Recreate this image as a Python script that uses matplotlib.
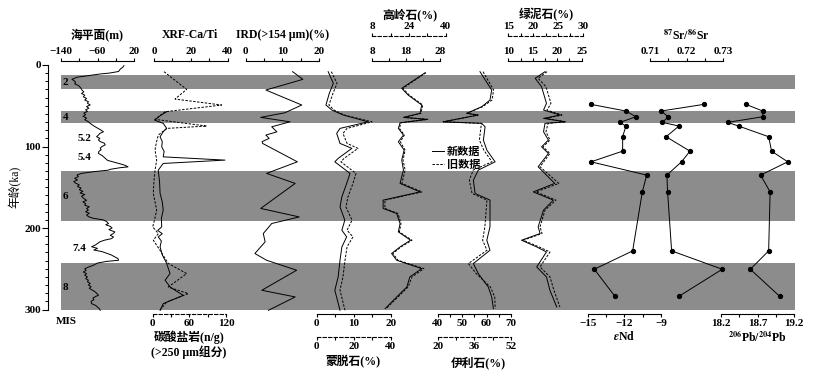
import matplotlib
matplotlib.use("Agg")
import matplotlib.pyplot as plt

plt.rcParams['font.family'] = ['Liberation Serif', 'Noto Sans CJK SC']
plt.rcParams['font.weight'] = 'bold'
plt.rcParams['mathtext.fontset'] = 'stix'

# ---- data (age in ka) ----
mis_bands = [(12, 29), (57, 71), (130, 191), (243, 300)]
mis_names = ['2', '4', '6', '8']
mis_name_age = [21, 64, 161, 273]
substage_names = ['5.2', '5.4', '7.4']
substage_age = [90, 113, 225]

sl_age = [0.8, 3, 5, 8, 10, 11, 13, 15, 17.6, 19, 21, 23, 24.6, 26, 28, 30.7, 33, 35, 37, 39,
          41, 43, 45, 47, 49, 51, 53, 55, 57, 59, 61, 63, 65, 67, 69.7, 72, 74, 75.8, 78, 80,
          81.9, 84, 86, 88, 90, 92, 94, 96, 98, 100, 102, 104, 106, 108.5, 111, 113, 115, 117, 119, 121,
          123, 125, 126, 128, 129, 131, 133, 135, 137, 139, 141, 143, 145, 147, 149, 151, 153, 155, 157, 159,
          161, 163.8, 166, 168, 170, 172, 174, 176, 178, 180, 182, 184, 186, 188, 190, 192, 194.5, 196, 198, 200,
          202, 204.8, 207, 209, 211, 213, 215, 217, 219, 221, 223, 225, 227, 229, 231, 233, 235.5, 237.5, 239.6, 241,
          243, 245.7, 248, 250, 252, 254, 256, 258, 260, 262, 264, 266, 268, 270, 272, 274, 276, 278, 280, 282.6,
          284, 286, 288, 290, 292.8, 295, 297, 299, 301]
sl_val = [-2, -5, -10, -14, -35, -54, -80, -105, -116, -112, -108, -110, -104, -100, -97, -94, -90, -95, -88, -91,
          -84, -88, -80, -82, -76, -84, -79, -86, -82, -90, -86, -92, -84, -88, -80, -75, -70, -65, -58, -52,
          -47, -55, -58, -62, -55, -58, -54, -45, -43, -50, -54, -52, -57, -58, -50, -46, -42, -38, -25, -12,
          0, 7, -10, -32, -36, -70, -95, -105, -102, -110, -104, -112, -108, -100, -104, -96, -100, -92, -98, -88,
          -95, -90, -84, -92, -86, -88, -78, -84, -80, -86, -78, -84, -80, -70, -48, -40, -36, -42, -32, -28,
          -35, -22, -26, -32, -25, -29, -45, -55, -60, -65, -73, -60, -68, -50, -40, -30, -22, -15, -14, -40,
          -60, -69, -80, -88, -85, -91, -84, -88, -82, -86, -80, -82, -76, -80, -74, -78, -72, -66, -62, -58,
          -64, -70, -68, -74, -73, -64, -60, -56, -54]

xrf_age = [57.3, 62, 67.6, 71.6, 77.8, 81.9, 88.1, 94, 100.4, 106, 112.7, 116.7, 120.8, 129, 143, 157.6,
           168, 178.1, 188, 198.6, 203, 207, 210.9, 216, 223.2, 233, 243.6, 255.9, 264.1, 273, 282.6, 292.8, 301]
xrf_val = [6.9, 3.5, 0.3, 5.0, 6.9, 5.0, 3.3, 4.5, 4.2, 5.5, 5.0, 38.5, 5.0, 2.3, 3.0, 3.3,
           4.5, 5.0, 4.0, 4.2, 2.0, 4.5, 2.3, 4.0, 3.3, 4.5, 6.9, 8.7, 6.0, 9.0, 15.9, 5.0, 3.3]

carb_age = [8.2, 29.9, 41.8, 49.1, 57.4, 66.7, 74.9, 77.8, 86, 95, 104.4, 116.7, 129, 143, 157.6, 178.1,
            190, 198.6, 206.8, 215, 227.3, 243.6, 255.9, 272.4, 280.5, 290.8, 301]
carb_val = [18.5, 55.6, 36.5, 112.9, 20.1, 3.8, 88.4, 22.9, 9.2, 6.0, 3.8, 6.5, 3.8, 2.0, 1.0, 6.5,
            3.0, 0.0, 9.2, 1.0, 11.9, 25.5, 55.6, 25.5, 58.3, 22.9, 11.9]

ird_age = [8.2, 17.6, 30.7, 49.1, 58.6, 64.3, 69.7, 75.8, 82, 86, 90, 94, 96.2, 118.8, 133, 145.3,
           176, 186.4, 194.5, 206.8, 217, 231.3, 239.6, 251.8, 276.4, 284.6, 301]
ird_val = [12.8, 15.6, 5.5, 15.3, 10.7, 4.1, 12.1, 7.1, 8.5, 5.5, 6.4, 4.5, 4.6, 14.1, 5.7, 13.5,
           4.1, 14.6, 7.1, 4.8, 5.3, 2.5, 5.7, 13.9, 4.4, 13.5, 6.2]

smec_age = [8.2, 22.5, 34.8, 49.1, 55.3, 61.4, 69.7, 77.8, 83.9, 96.2, 102.3, 114.6, 118.8, 133, 145.3,
            161.8, 174.1, 190.4, 202.7, 210.9, 223.2, 239.6, 260, 276.4, 301]
smec_new = [3.1, 4.5, 3.4, 2.5, 4.1, 7.2, 13.9, 6.3, 5.4, 6.3, 9.5, 5.8, 4.9, 9.0, 8.1,
            6.8, 6.3, 7.6, 6.8, 8.1, 6.8, 6.3, 5.8, 4.9, 6.3]
smec_old = [7.9, 11.0, 8.8, 6.6, 9.4, 14.8, 29.9, 16.4, 14.2, 16.4, 22.3, 14.8, 13.1, 21.2, 19.6,
            16.9, 15.8, 19.1, 16.4, 19.6, 16.4, 15.3, 14.2, 12.6, 15.3]

kaol_age = [9.5, 28.6, 36.9, 49.1, 59.3, 64.3, 66.7, 70.9, 77.8, 86, 94.2, 104.4, 116.7, 129, 145.3,
            155.7, 165.8, 176, 182.2, 194.5, 204.8, 215, 223.2, 231.3, 239.6, 249.8, 260, 272.4, 284.6, 298.9]
kaol_new = [23.6, 16.7, 18.6, 22.6, 22.1, 17.2, 24.1, 16.2, 15.7, 17.2, 15.7, 17.4, 16.7, 17.2, 16.2,
            22.1, 11.2, 11.2, 15.2, 16.2, 15.7, 19.3, 16.2, 13.7, 15.2, 22.6, 19.1, 18.2, 15.2, 11.8]
kaol_old = [31.4, 21.3, 24.1, 30.0, 29.2, 22.0, 32.2, 20.5, 19.8, 22.0, 20.2, 22.3, 21.4, 22.3, 20.9,
            29.7, 13.5, 13.5, 19.2, 20.5, 19.8, 25.3, 20.5, 17.0, 19.2, 30.5, 25.3, 23.6, 19.2, 14.0]

illi_age = [8.2, 30.7, 43, 51.2, 59.3, 61.4, 69.7, 71.6, 75.8, 92.1, 104.4, 118.8, 129, 141.3, 157.6,
            165.8, 198.6, 215, 227.3, 243.6, 255.9, 272.4, 284.6, 298.9]
illi_new = [57.3, 62.1, 61.4, 58.0, 51.9, 56.5, 42.3, 58.0, 59.4, 58.7, 60.1, 63.5, 56.6, 54.6, 55.3,
            61.4, 61.4, 60.1, 61.4, 54.6, 56.6, 60.7, 62.1, 62.8]
illi_old = [39.8, 44.4, 43.7, 39.6, 32.7, 37.6, 22.4, 39.2, 38.9, 38.2, 40.1, 43.7, 35.5, 33.8, 35.0,
            41.5, 40.6, 39.6, 41.5, 33.4, 36.8, 43.0, 44.9, 45.1]

chlo_age = [8.2, 16.3, 26.7, 47.1, 55.3, 61.4, 65.5, 69.7, 71.6, 81.9, 92.1, 100.4, 108.5, 124.9,
            145.3, 155.7, 165.8, 178.1, 198.6, 206.8, 215, 223.2, 229.4, 247.8, 260, 276.4, 296.9]
chlo_new = [17.5, 15.5, 16.8, 17.8, 17.2, 20.6, 17.2, 21.6, 17.5, 17.2, 18.2, 16.8, 18.2, 16.1,
            19.5, 15.1, 19.2, 17.2, 16.1, 16.5, 12.7, 15.8, 17.8, 15.8, 17.8, 18.5, 19.9]
chlo_old = [22.8, 21.0, 22.6, 23.6, 22.8, 25.8, 22.6, 26.6, 23.0, 22.6, 23.4, 22.0, 23.4, 21.4,
            25.2, 20.6, 24.6, 22.4, 21.4, 21.8, 18.0, 21.2, 23.4, 21.4, 23.4, 24.2, 25.4]

iso_age = [48.3, 56.5, 63.5, 70.4, 74.9, 88, 105.7, 118.8, 135.1, 155.7, 228.1, 250.6, 283.8]
end_val = [-14.73, -11.87, -11.05, -12.36, -11.87, -12.14, -12.14, -14.73, -10.17, -10.53, -11.32, -14.46, -12.77]
sr_val = [0.7247, 0.7130, 0.7150, 0.7134, 0.7179, 0.7144, 0.7209, 0.7186, 0.7146, 0.7148, 0.7159, 0.7297, 0.7179]
pb_val = [18.54, 18.77, 18.77, 18.29, 18.44, 18.85, 18.89, 19.11, 18.74, 18.87, 18.85, 18.60, 19.00]

# ---- layout (pixels) ----
W, H = 814, 373
Y0, Y1 = 65, 309.5
fig = plt.figure(figsize=(W / 100, H / 100), dpi=100)
fig.patch.set_facecolor('white')
GREY = '#8c8c8c'
LW = 0.7
FS = 8


def px(x0, x1):
    return [x0 / W, 1 - Y1 / H, (x1 - x0) / W, (Y1 - Y0) / H]


main = fig.add_axes(px(48, 795))
main.set_ylim(300, 0)
main.set_xlim(0, 1)
for s in ['top', 'right', 'bottom']:
    main.spines[s].set_visible(False)
main.spines['left'].set_linewidth(0.8)
main.set_xticks([])
main.set_yticks([0, 100, 200, 300])
main.set_yticks(range(0, 301, 10), minor=True)
main.tick_params(axis='y', which='major', length=4, width=0.8, labelsize=FS, pad=1)
main.tick_params(axis='y', which='minor', length=2.5, width=0.7)
main.set_ylabel('年龄(ka)', fontsize=8.5, labelpad=2)
for a, b in mis_bands:
    main.axhspan(a, b, xmin=(61 - 48) / (795 - 48), xmax=1, color=GREY, lw=0, zorder=0)


def track(x0, x1, lim):
    ax = fig.add_axes(px(x0, x1))
    ax.set_xlim(*lim)
    ax.set_ylim(300, 0)
    ax.patch.set_visible(False)
    for s in ax.spines.values():
        s.set_visible(False)
    ax.set_xticks([])
    ax.set_yticks([])
    return ax


def scale(ax, side, ticks, labels, out, dashed=False):
    sp = ax.spines[side]
    sp.set_visible(True)
    sp.set_position(('outward', out))
    sp.set_linewidth(0.8)
    if dashed:
        sp.set_linestyle((0, (3, 2)))
    ax.xaxis.set_ticks_position(side)
    ax.set_xticks(ticks)
    ax.set_xticklabels(labels)
    ax.tick_params(axis='x', direction='out', length=2.5, width=0.8, pad=1, labelsize=FS)


def title(x, y, s, fs=8.5):
    fig.text(x / W, 1 - y / H, s, ha='center', va='center', fontsize=fs)


kw = dict(color='k', lw=LW, clip_on=False)
kwd = dict(color='k', lw=LW, ls=(0, (2.5, 1.5)), clip_on=False)

# sea level
ax = track(61, 134, (-140, 20))
scale(ax, 'top', [-140, -100, -60, -20, 20], ['\u2212140', '', '\u221260', '', '20'], 3)
ax.plot(sl_val, sl_age, **kw)
for n, a in zip(mis_names, mis_name_age):
    ax.text(-136, a, n, fontsize=FS, ha='left', va='center')
for n, a, x in zip(substage_names, substage_age, [-88, -88, -100]):
    ax.text(x, a, n, fontsize=FS, ha='center', va='center')
title(97, 35, '海平面(m)')

# XRF Ca/Ti + carbonate
ax = track(154, 227.7, (0, 40))
scale(ax, 'top', [0, 10, 20, 30, 40], ['0', '', '20', '', '40'], 3)
ax.plot(xrf_val, xrf_age, **kw)
title(190, 35, 'XRF-Ca/Ti')
ax = track(152.7, 226, (0, 120))
scale(ax, 'bottom', [0, 30, 60, 90, 120], ['0', '', '60', '', '120'], 3, dashed=True)
ax.plot(carb_val, carb_age, **kwd)
title(189, 337, '碳酸盐岩(n/g)')
title(189, 352, '(>250 \u03bcm组分)')

# IRD
ax = track(245.7, 319, (0, 20))
scale(ax, 'top', [0, 5, 10, 15, 20], ['0', '', '10', '', '20'], 3)
ax.plot(ird_val, ird_age, **kw)
title(283, 35, 'IRD(>154 \u03bcm)(%)')

# smectite
ax = track(316.7, 390.7, (0, 20))
scale(ax, 'bottom', [0, 5, 10, 15, 20], ['0', '', '10', '', '20'], 3)
l_new, = ax.plot(smec_new, smec_age, **kw)
ax = track(316.7, 390.7, (0, 40))
scale(ax, 'bottom', [0, 10, 20, 30, 40], ['0', '', '20', '', '40'], 20, dashed=True)
l_old, = ax.plot(smec_old, smec_age, **kwd)
title(353, 362, '蒙脱石(%)')

# kaolinite
ax = track(372.3, 440, (8, 28))
scale(ax, 'top', [8, 13, 18, 23, 28], ['8', '', '18', '', '28'], 3)
ax.plot(kaol_new, kaol_age, **kw)
ax = track(372.3, 445.7, (8, 40))
scale(ax, 'top', [8, 16, 24, 32, 40], ['8', '', '24', '', '40'], 21, dashed=True)
ax.plot(kaol_old, kaol_age, **kwd)
title(410, 15, '高岭石(%)')

# illite
ax = track(437.7, 511, (40, 70))
scale(ax, 'bottom', [40, 45, 50, 55, 60, 65, 70], ['40', '', '50', '', '60', '', '70'], 3)
ax.plot(illi_new, illi_age, **kw)
ax = track(437.7, 511, (20, 52))
scale(ax, 'bottom', [20, 28, 36, 44, 52], ['20', '', '36', '', '52'], 20, dashed=True)
ax.plot(illi_old, illi_age, **kwd)
title(478, 363, '伊利石(%)')

# chlorite
ax = track(508.3, 581.7, (10, 25))
scale(ax, 'top', [10, 12.5, 15, 17.5, 20, 22.5, 25], ['10', '', '15', '', '20', '', '25'], 3)
ax.plot(chlo_new, chlo_age, **kw)
ax = track(508.3, 582.7, (15, 30))
scale(ax, 'top', [15, 17.5, 20, 22.5, 25, 27.5, 30], ['15', '', '20', '', '25', '', '30'], 21, dashed=True)
ax.plot(chlo_old, chlo_age, **kwd)
title(546, 15, '绿泥石(%)')

# isotopes
mk = dict(color='k', lw=LW, marker='o', ms=2.8, clip_on=False)
ax = track(587.7, 661, (-15, -9))
scale(ax, 'bottom', [-15, -13.5, -12, -10.5, -9], ['\u221215', '', '\u221212', '', '\u22129'], 3)
ax.plot(end_val, iso_age, **mk)
title(624, 337, r'$\varepsilon$Nd')

ax = track(650, 723.3, (0.71, 0.73))
scale(ax, 'top', [0.71, 0.715, 0.72, 0.725, 0.73], ['0.71', '', '0.72', '', '0.73'], 3)
ax.plot(sr_val, iso_age, **mk)
title(686, 35, r'$^{87}$Sr/$^{86}$Sr')

ax = track(721, 794.3, (18.2, 19.2))
scale(ax, 'bottom', [18.2, 18.45, 18.7, 18.95, 19.2], ['18.2', '', '18.7', '', '19.2'], 3)
ax.plot(pb_val, iso_age, **mk)
title(757, 337, r'$^{206}$Pb/$^{204}$Pb')

title(66, 322, 'MIS', fs=8)

fig.legend([l_new, l_old], ['新数据', '旧数据'], loc='upper left',
           bbox_to_anchor=(426 / W, 1 - 141 / H), frameon=False, fontsize=8,
           handlelength=1.1, handletextpad=0.3, labelspacing=0.25, borderpad=0)

fig.savefig('out.png', dpi=100)
